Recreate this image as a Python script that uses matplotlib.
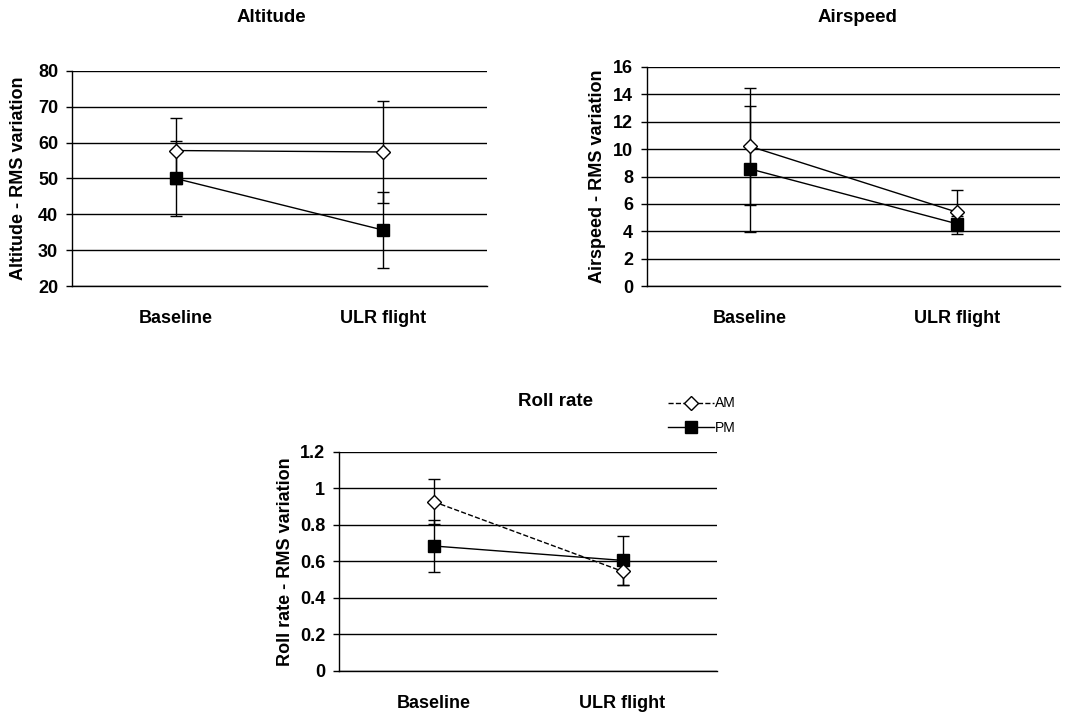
import matplotlib
matplotlib.use("Agg")
import matplotlib.pyplot as plt
import numpy as np
from matplotlib.lines import Line2D

plt.rcParams["font.family"] = ["Liberation Sans", "DejaVu Sans"]

categories = ["Baseline", "ULR flight"]

# Altitude
alt_am = [57.8, 57.4]
alt_am_err = [9.2, 14.1]
alt_pm = [50.0, 35.6]
alt_pm_err = [10.4, 10.5]

# Airspeed
air_am = [10.2, 5.4]
air_am_err = [4.3, 1.6]
air_pm = [8.55, 4.55]
air_pm_err = [4.6, 0.55]

# Roll rate
roll_am = [0.928, 0.546]
roll_am_err = [0.124, 0.073]
roll_pm = [0.685, 0.606]
roll_pm_err = [0.14, 0.136]


def panel(ax, ylabel, am, am_err, pm, pm_err, yticks, am_ls="-", labelpad=8):
    x = np.arange(len(categories)) + 0.5
    ax.errorbar(x, pm, yerr=pm_err, color="black", lw=1, ls="-", marker="s",
                ms=8, mfc="black", mec="black", capsize=4.5, elinewidth=1,
                capthick=1, zorder=3)
    ax.errorbar(x, am, yerr=am_err, color="black", lw=1, ls=am_ls, marker="D",
                ms=7, mfc="white", mec="black", mew=1, capsize=4.5, elinewidth=1,
                capthick=1, zorder=4)
    ax.set_xlim(0, len(categories))
    ax.set_ylim(yticks[0], yticks[-1])
    ax.set_yticks(yticks)
    ax.set_xticks(x)
    ax.set_xticklabels(categories, fontsize=13, fontweight="bold")
    ax.tick_params(axis="x", length=0, pad=17)
    ax.tick_params(axis="y", length=4, width=1, direction="out", labelsize=13, pad=6)
    for lab in ax.get_yticklabels():
        lab.set_fontweight("bold")
    ax.grid(axis="y", color="black", lw=1)
    ax.set_axisbelow(True)
    for s in ("top", "right"):
        ax.spines[s].set_visible(False)
    ax.spines["left"].set_linewidth(1)
    ax.spines["bottom"].set_linewidth(1)
    ax.set_ylabel(ylabel, fontsize=13, fontweight="bold", labelpad=labelpad)


fig = plt.figure(figsize=(10.79, 7.12), dpi=100)

ax1 = fig.add_axes([0.0667, 0.5983, 0.3846, 0.302])
panel(ax1, "Altitude - RMS variation", alt_am, alt_am_err,
      alt_pm, alt_pm_err, [20, 30, 40, 50, 60, 70, 80])

ax2 = fig.add_axes([0.5996, 0.5983, 0.3828, 0.3076])
panel(ax2, "Airspeed - RMS variation", air_am, air_am_err,
      air_pm, air_pm_err, [0, 2, 4, 6, 8, 10, 12, 14, 16], labelpad=5)

ax3 = fig.add_axes([0.3142, 0.0576, 0.3503, 0.3076])
panel(ax3, "Roll rate - RMS variation", roll_am, roll_am_err,
      roll_pm, roll_pm_err, [0, 0.2, 0.4, 0.6, 0.8, 1, 1.2], am_ls="--",
      labelpad=4)
ax3.set_yticklabels(["0", "0.2", "0.4", "0.6", "0.8", "1", "1.2"])

# titles are centred on the whole chart area, not on the plot box
fig.text(271 / 1079, 1 - 17 / 712, "Altitude", ha="center", va="center",
         fontsize=13.5, fontweight="bold")
fig.text(857 / 1079, 1 - 17 / 712, "Airspeed", ha="center", va="center",
         fontsize=13.5, fontweight="bold")
fig.text(555 / 1079, 1 - 401 / 712, "Roll rate", ha="center", va="center",
         fontsize=13.5, fontweight="bold")

# legend: line + marker only
h_am = Line2D([], [], color="black", lw=1, ls="--", marker="D", ms=7,
              mfc="white", mec="black")
h_pm = Line2D([], [], color="black", lw=1, ls="-", marker="s", ms=8,
              mfc="black", mec="black")
fig.legend([h_am, h_pm], ["AM", "PM"], loc="upper left",
           bbox_to_anchor=(0.614, 0.451), frameon=False, handlelength=3.3,
           handletextpad=0.1, labelspacing=0.75, borderaxespad=0,
           prop={"size": 10})

fig.savefig("out.png", dpi=100)
